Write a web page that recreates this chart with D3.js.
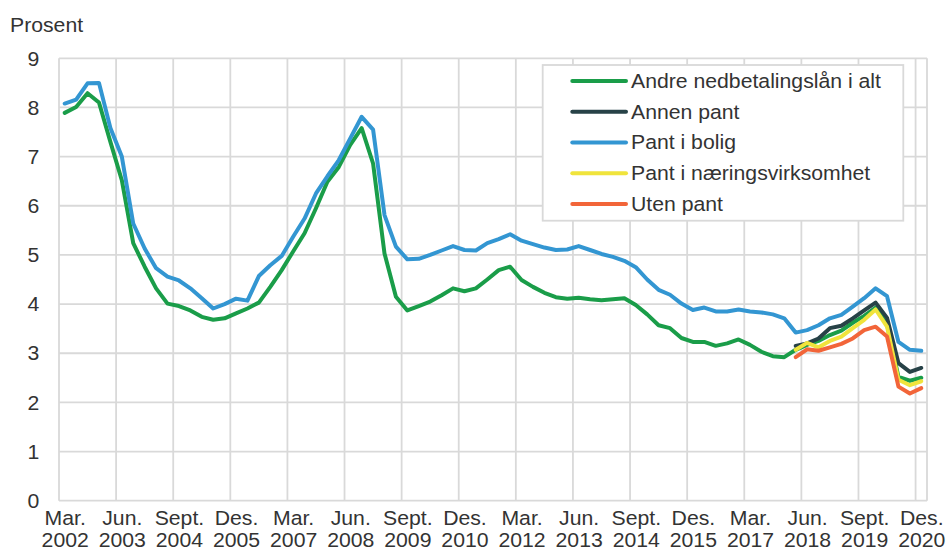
<!DOCTYPE html>
<html>
<head>
<meta charset="utf-8">
<script src="https://cdn.jsdelivr.net/npm/d3@7"></script>
<style>
  body { margin: 0; background: #fff; }
  text { font-family: "Liberation Sans", Arial, sans-serif; fill: #333; }
</style>
</head>
<body>
<div id="chart"></div>
<script>
// kvartaler fra mars 2002 til des. 2020
const quarters = ["Mar.", "Jun.", "Sept.", "Des."];
const years = d3.range(2002, 2021);
const categories = years.flatMap(y => quarters.map(q => `${q} ${y}`));

const tickLabels = ["Mar. 2002", "Jun. 2003", "Sept. 2004", "Des. 2005", "Mar. 2007", "Jun. 2008",
  "Sept. 2009", "Des. 2010", "Mar. 2012", "Jun. 2013", "Sept. 2014", "Des. 2015",
  "Mar. 2017", "Jun. 2018", "Sept. 2019", "Des. 2020"];
const yTicks = [0, 1, 2, 3, 4, 5, 6, 7, 8, 9];

// Andre nedbetalingslån i alt (hele perioden)
const andreIAlt = [7.89, 8.01, 8.29, 8.10, 7.30, 6.52, 5.24, 4.76, 4.32, 4.01, 3.96, 3.87, 3.74, 3.68, 3.71, 3.81,
  3.91, 4.03, 4.35, 4.69, 5.07, 5.44, 5.95, 6.49, 6.79, 7.24, 7.58, 6.86, 5.03, 4.15, 3.87, 3.96,
  4.05, 4.18, 4.32, 4.26, 4.32, 4.50, 4.69, 4.76, 4.49, 4.35, 4.23, 4.14, 4.11, 4.13, 4.10, 4.08,
  4.10, 4.12, 3.98, 3.79, 3.57, 3.51, 3.31, 3.23, 3.23, 3.15, 3.20, 3.28, 3.17, 3.03, 2.94, 2.92,
  3.07, 3.17, 3.25, 3.37, 3.46, 3.62, 3.76, 3.93, 3.59, 2.52, 2.44, 2.50];

// Pant i bolig (hele perioden)
const pantBolig = [8.08, 8.16, 8.49, 8.50, 7.58, 7.00, 5.64, 5.13, 4.73, 4.56, 4.48, 4.32, 4.12, 3.91, 4.00, 4.11,
  4.07, 4.57, 4.79, 4.98, 5.37, 5.74, 6.25, 6.60, 6.93, 7.37, 7.81, 7.55, 5.81, 5.17, 4.91, 4.92,
  5.00, 5.09, 5.18, 5.10, 5.09, 5.24, 5.32, 5.42, 5.29, 5.22, 5.15, 5.10, 5.11, 5.18, 5.10, 5.02,
  4.96, 4.88, 4.75, 4.50, 4.29, 4.19, 4.01, 3.88, 3.93, 3.85, 3.85, 3.89, 3.85, 3.83, 3.79, 3.71,
  3.42, 3.47, 3.57, 3.71, 3.78, 3.95, 4.12, 4.32, 4.16, 3.23, 3.07, 3.05];

// de tre siste seriene starter i mars 2018
const startIndex = 64;
const annenPant = [3.15, 3.20, 3.30, 3.51, 3.56, 3.71, 3.87, 4.03, 3.72, 2.80, 2.62, 2.70];
const pantNaering = [3.07, 3.21, 3.12, 3.25, 3.34, 3.51, 3.68, 3.89, 3.54, 2.46, 2.35, 2.43];
const utenPant = [2.92, 3.08, 3.05, 3.12, 3.19, 3.30, 3.47, 3.54, 3.34, 2.32, 2.18, 2.29];

const seriesNames = ["Andre nedbetalingslån i alt", "Annen pant", "Pant i bolig", "Pant i næringsvirksomhet", "Uten pant"];
const seriesColors = ["#1a9d49", "#274247", "#3396d2", "#f0e43c", "#f26539"];

const series = [
  { name: seriesNames[0], values: andreIAlt, start: 0 },
  { name: seriesNames[1], values: annenPant, start: startIndex },
  { name: seriesNames[2], values: pantBolig, start: 0 },
  { name: seriesNames[3], values: pantNaering, start: startIndex },
  { name: seriesNames[4], values: utenPant, start: startIndex }
];

const width = 946, height = 552;
const plot = { left: 59, right: 927, top: 58.3, bottom: 500.7 };
const gridColor = "#d9d9d9";
const fontSize = 19.3, stretch = "scale(1.1,1)";

const svg = d3.select("#chart").append("svg")
  .attr("width", width)
  .attr("height", height);

const xScale = d3.scalePoint()
  .domain(categories)
  .range([plot.left, plot.right])
  .padding(0.5);
const step = xScale.step();

const yScale = d3.scaleLinear()
  .domain([0, 9])
  .range([plot.bottom, plot.top]);

const cScale = d3.scaleOrdinal(seriesNames, seriesColors);

// rutenett
svg.append("g")
  .selectAll("line")
  .data(yTicks)
  .join("line")
  .attr("x1", plot.left).attr("x2", plot.right)
  .attr("y1", d => yScale(d)).attr("y2", d => yScale(d))
  .attr("stroke", gridColor).attr("stroke-width", 1.8);

const vLines = tickLabels.map(d => xScale(d) - step / 2).concat([plot.right]);
svg.append("g")
  .selectAll("line")
  .data(vLines)
  .join("line")
  .attr("x1", d => d).attr("x2", d => d)
  .attr("y1", plot.top).attr("y2", plot.bottom)
  .attr("stroke", gridColor).attr("stroke-width", 1.8);

// akser (bare tekst)
const yAxis = svg.append("g")
  .attr("transform", `translate(${plot.left},0)`)
  .call(d3.axisLeft(yScale).tickValues(yTicks).tickSize(0).tickPadding(18).tickFormat(d3.format("d")));
yAxis.select(".domain").remove();
yAxis.selectAll("text")
  .style("font-size", fontSize + "px")
  .attr("dy", "0.35em")
  .attr("transform", stretch);

const xAxis = svg.append("g")
  .attr("transform", `translate(0,${plot.bottom})`)
  .call(d3.axisBottom(xScale).tickValues(tickLabels).tickSize(0));
xAxis.select(".domain").remove();
xAxis.selectAll("text")
  .style("font-size", fontSize + "px")
  .attr("dy", null)
  .attr("y", null)
  .attr("transform", stretch)
  .each(function(d) {
    const parts = d.split(" ");
    const t = d3.select(this).text(null);
    t.append("tspan").attr("x", 0).attr("y", 24.3).text(parts[0]);
    t.append("tspan").attr("x", 0).attr("y", 46.6).text(parts[1]);
  });

// linjer
const line = d3.line()
  .x(d => xScale(d.cat))
  .y(d => yScale(d.value));

svg.append("g")
  .selectAll("path")
  .data(series)
  .join("path")
  .attr("d", s => line(s.values.map((v, i) => ({ cat: categories[s.start + i], value: v }))))
  .attr("fill", "none")
  .attr("stroke", s => cScale(s.name))
  .attr("stroke-width", 4)
  .attr("stroke-linejoin", "round")
  .attr("stroke-linecap", "round");

// y-aksetittel
svg.append("text")
  .attr("transform", `translate(10,31.7) ${stretch}`)
  .style("font-size", fontSize + "px")
  .text("Prosent");

// tegnforklaring
const legend = svg.append("g");
legend.append("rect")
  .attr("x", 542.7).attr("y", 65)
  .attr("width", 360.6).attr("height", 155.7)
  .attr("fill", "#fff")
  .attr("stroke", gridColor).attr("stroke-width", 1.8);

const rows = legend.selectAll("g.row")
  .data(seriesNames)
  .join("g")
  .attr("class", "row")
  .attr("transform", (d, i) => `translate(0,${81 + i * 30.75})`);
rows.append("line")
  .attr("x1", 572.3).attr("x2", 626)
  .attr("stroke", d => cScale(d))
  .attr("stroke-width", 4)
  .attr("stroke-linecap", "round");
rows.append("text")
  .attr("transform", `translate(631,0) ${stretch}`)
  .attr("dy", "0.35em")
  .style("font-size", fontSize + "px")
  .text(d => d);
</script>
</body>
</html>
